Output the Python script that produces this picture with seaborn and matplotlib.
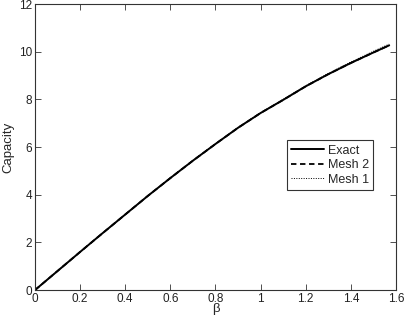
import numpy as np
import pandas as pd
import matplotlib
matplotlib.use("Agg")
import matplotlib.pyplot as plt
import seaborn as sns

beta = [0.0, 0.1, 0.2, 0.3, 0.4, 0.5, 0.6, 0.7, 0.8, 0.9, 1.0, 1.1, 1.2, 1.3, 1.4, 1.5, 1.57]
exact = [0.0, 0.80, 1.60, 2.39, 3.17, 3.95, 4.70, 5.43, 6.13, 6.81, 7.43, 7.98, 8.55, 9.06, 9.53, 9.97, 10.27]
mesh2 = [0.0, 0.80, 1.60, 2.39, 3.17, 3.95, 4.70, 5.43, 6.13, 6.81, 7.43, 7.98, 8.55, 9.06, 9.53, 9.97, 10.27]
mesh1 = [0.0, 0.80, 1.60, 2.39, 3.17, 3.95, 4.71, 5.44, 6.14, 6.82, 7.44, 8.00, 8.57, 9.09, 9.57, 10.02, 10.32]
series = ["Exact", "Mesh 2", "Mesh 1"]

sns.set_style("white")
plt.rcParams['font.family'] = ['Liberation Sans', 'DejaVu Sans']

df = pd.concat([
    pd.DataFrame({"beta": beta, "cap": exact, "s": "Exact"}),
    pd.DataFrame({"beta": beta, "cap": mesh2, "s": "Mesh 2"}),
    pd.DataFrame({"beta": beta, "cap": mesh1, "s": "Mesh 1"}),
])

fig = plt.figure(figsize=(4.04, 3.17), dpi=100)
ax = fig.add_axes([0.0866, 0.085, 0.8935, 0.902])

styles = {"Exact": (1.4, "-"), "Mesh 2": (1.3, (0, (3, 2))), "Mesh 1": (0.7, (0, (1, 1.5)))}
for name in series:
    sub = df[df.s == name]
    lw, ls = styles[name]
    sns.lineplot(data=sub, x="beta", y="cap", ax=ax, color="black", lw=lw,
                 linestyle=ls, label=name, sort=False)

ax.set_xlim(0, 1.6)
ax.set_ylim(0, 12)
ax.set_xticks(np.arange(0, 1.61, 0.2))
ax.set_xticklabels(["0", "0.2", "0.4", "0.6", "0.8", "1", "1.2", "1.4", "1.6"])
ax.set_yticks(range(0, 13, 2))
ax.tick_params(direction="in", length=4, width=0.6, labelsize=8.5, pad=2,
               top=True, right=True, bottom=True, left=True, color="#333333",
               labelcolor="#222222")
for sp in ax.spines.values():
    sp.set_linewidth(0.8)
    sp.set_color("#333333")
ax.set_xlabel("β", fontsize=9.5, labelpad=-1)
ax.set_ylabel("Capacity", fontsize=9.5, labelpad=3)

leg = ax.legend(loc="upper left", bbox_to_anchor=(0.698, 0.524),
                fontsize=9, frameon=True, fancybox=False,
                handlelength=2.6, handletextpad=0.3, borderpad=0.35,
                labelspacing=0.2, borderaxespad=0)
leg.get_frame().set_edgecolor("black")
leg.get_frame().set_linewidth(0.8)

fig.savefig("out.png", dpi=100)
